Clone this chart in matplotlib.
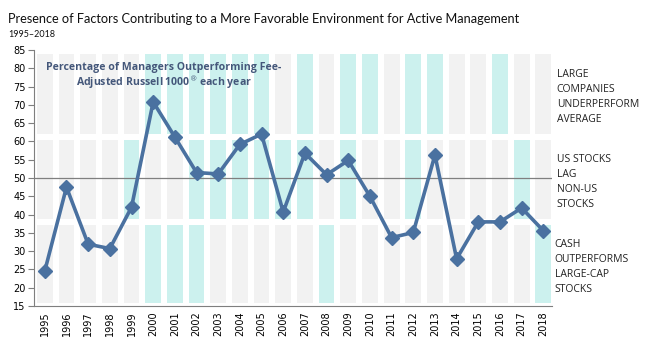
import matplotlib.pyplot as plt

years = list(range(1995, 2019))
pct_outperforming = [24.6, 47.5, 31.9, 30.7, 42.0, 70.8, 61.2, 51.5, 51.1, 59.2, 62.0, 40.7,
                     56.8, 50.9, 54.8, 45.0, 33.7, 35.1, 56.3, 27.9, 38.0, 38.0, 41.8, 35.6]

# 1 = factor present in that year
large_underperform = [0, 0, 0, 0, 0, 1, 1, 1, 1, 1, 1, 0, 1, 0, 1, 1, 0, 1, 1, 0, 0, 1, 0, 0]
us_lag_nonus = [0, 0, 0, 0, 1, 0, 0, 1, 1, 1, 1, 1, 1, 0, 1, 0, 0, 1, 0, 0, 0, 0, 1, 0]
cash_outperforms = [0, 0, 0, 0, 0, 1, 1, 1, 0, 0, 0, 0, 0, 1, 0, 0, 0, 0, 0, 0, 0, 0, 0, 1]

band_labels = ["LARGE\nCOMPANIES\nUNDERPERFORM\nAVERAGE",
               "US STOCKS\nLAG\nNON-US\nSTOCKS",
               "CASH\nOUTPERFORMS\nLARGE-CAP\nSTOCKS"]

GREY = "#f2f2f2"
TEAL = "#ccf1ee"
LINE = "#4a71a0"

fig = plt.figure(figsize=(6.52, 3.43), dpi=100)
ax = fig.add_axes([0.0521, 0.1079, 0.7945, 0.7463])

x = list(range(len(years)))
# (flags, band bottom, band top, label x, label top in figure coords)
bands = [(large_underperform, 62.1, 83.8, 0.854, 0.800),
         (us_lag_nonus, 38.9, 60.4, 0.854, 0.552),
         (cash_outperforms, 15.9, 37.1, 0.851, 0.304)]
for (flags, lo, hi, tx, ty), label in zip(bands, band_labels):
    colors = [TEAL if f else GREY for f in flags]
    ax.bar(x, [hi - lo] * len(x), bottom=lo, width=0.73, color=colors, zorder=1)
    fig.text(tx, ty, label, fontsize=7.5, family="Open Sans",
             color="#222222", va="top", ha="left", linespacing=1.5)

ax.axhline(50, color="#7f7f7f", lw=0.9, zorder=2)
ax.plot(x, pct_outperforming, color=LINE, lw=2.6, marker="D", ms=7.5,
        markeredgecolor=LINE, zorder=3)

note_kw = dict(ha="center", va="center", fontsize=7.6, fontweight="bold",
               family="Open Sans", color="#44577a", zorder=4)
ax.text(5.5, 80.3, "Percentage of Managers Outperforming Fee-", **note_kw)
ax.text(5.5, 76.2, "Adjusted Russell 1000$^{\\circledR}$ each year", **note_kw)

ax.set_xlim(-0.5, 23.4)
ax.set_ylim(15, 85)
ax.set_yticks(range(15, 90, 5))
ax.set_xticks(x)
ax.set_xticklabels(years, rotation=90)
ax.tick_params(axis="y", length=4, color="#7f7f7f", labelsize=7, pad=2)
ax.tick_params(axis="x", length=0, labelsize=7, pad=4)
for s in ["top", "right"]:
    ax.spines[s].set_visible(False)
for s in ["left", "bottom"]:
    ax.spines[s].set_color("#7f7f7f")

fig.text(0.012, 0.945, "Presence of Factors Contributing to a More Favorable Environment for Active Management",
         fontsize=9.2, family="Lato", color="#111111", va="center")
fig.text(0.012, 0.9, "1995\u20132018", fontsize=6.5, family="Lato", color="#111111", va="center")

fig.savefig("out.png", dpi=100)
